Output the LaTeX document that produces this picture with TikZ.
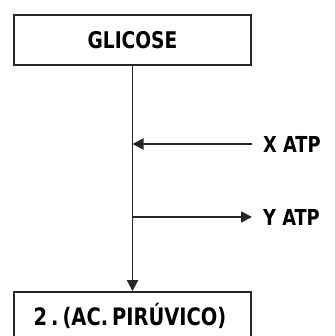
\documentclass[tikz,border=0pt]{standalone}
\usepackage{fontspec}
\setmainfont{DejaVu Sans Condensed}[FakeStretch=0.9]
\usetikzlibrary{arrows.meta}
\begin{document}
\begin{tikzpicture}[x=1pt,y=-1pt,
  box/.style={draw=black!85,line width=1.8pt,minimum width=237pt,minimum height=50pt,inner sep=0pt,font=\bfseries\fontsize{23}{23}\selectfont},
  lbl/.style={anchor=west,inner sep=0pt,font=\bfseries\fontsize{22}{22}\selectfont},
  conn/.style={line width=1.8pt,draw=black!85},
  tip/.style={-{Triangle[length=11pt,width=11pt]}}]
\useasboundingbox (0,0) rectangle (334,336);
\begin{scope}
\clip (0,0) rectangle (334,336);
\node[box] (g) at (132.5,40) {GLICOSE};
\node[box,minimum height=60pt] (p) at (132.5,322) {};
\node[inner sep=0pt,font=\bfseries\fontsize{24}{24}\selectfont] (pt) at (130,316) {2\,.\,(AC.\,PIRÚVICO)};
\end{scope}
\coordinate (xs) at (252,144);
\coordinate (xe) at (132.5,144);
\coordinate (ys) at (132.5,217);
\coordinate (ye) at (252,217);
\node[lbl] (xl) at (263,144) {X ATP};
\node[lbl] (yl) at (263,217) {Y ATP};
\draw[conn,tip] (g.south) -- (p.north);
\draw[conn,tip] (xs) -- (xe);
\draw[conn,tip] (ys) -- (ye);
\end{tikzpicture}
\end{document}
